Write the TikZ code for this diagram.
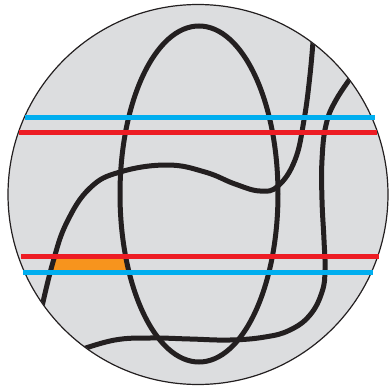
\documentclass[tikz,border=0pt]{standalone}
\usepackage{tikz}

\definecolor{discgray}{HTML}{DCDDDF}
\definecolor{strandblack}{HTML}{231F20}
\definecolor{cutblue}{HTML}{00AEEF}
\definecolor{cutred}{HTML}{ED1C24}
\definecolor{patchorange}{HTML}{F7941D}

\tikzset{
	strand/.style={line width=5pt, strandblack},
	cutline/.style={line width=5pt},
}

\begin{document}
\begin{tikzpicture}[x=1pt, y=-1pt]
		\useasboundingbox (0, 0) rectangle (389, 388);
		
		\filldraw[fill=discgray, draw=strandblack, line width=1.2pt] (198, 194.5) circle [radius=190pt];
		
		% the small patch between the lower pair of lines
		\fill[patchorange] (53, 256) -- (125.5, 256) -- (129, 272) -- (49, 272) -- cycle;
		
		\begin{scope}
		\clip (198, 194.5) circle [radius=189.5pt];
		\draw[strand] (199, 194) ellipse [x radius=79pt, y radius=168pt];
		% S-shaped strand
		\draw[strand] plot[smooth, tension=0.7] coordinates {(41, 311) (53, 262) (67, 222) (90, 188) (120, 172) (167, 165) (205, 172) (235, 184) (260, 191) (278, 186) (295, 160) (304, 120) (310, 75) (313.5, 35)};
		% right and bottom strand
		\draw[strand] plot[smooth, tension=0.7] coordinates {(355, 72) (336, 100) (326, 125) (322, 160) (322, 200) (324, 240) (325, 270) (322, 292) (310, 315) (290, 330) (265, 337) (230, 340) (190, 339) (150, 338) (115, 340) (80, 350)};
		\end{scope}
		
		\draw[cutline, cutblue] (25, 117) -- (375, 117);
		\draw[cutline, cutred] (19, 132) -- (377, 132);
		\draw[cutline, cutred] (21, 256) -- (379, 256);
		\draw[cutline, cutblue] (23, 272) -- (373, 272);
	\end{tikzpicture}
\end{document}
